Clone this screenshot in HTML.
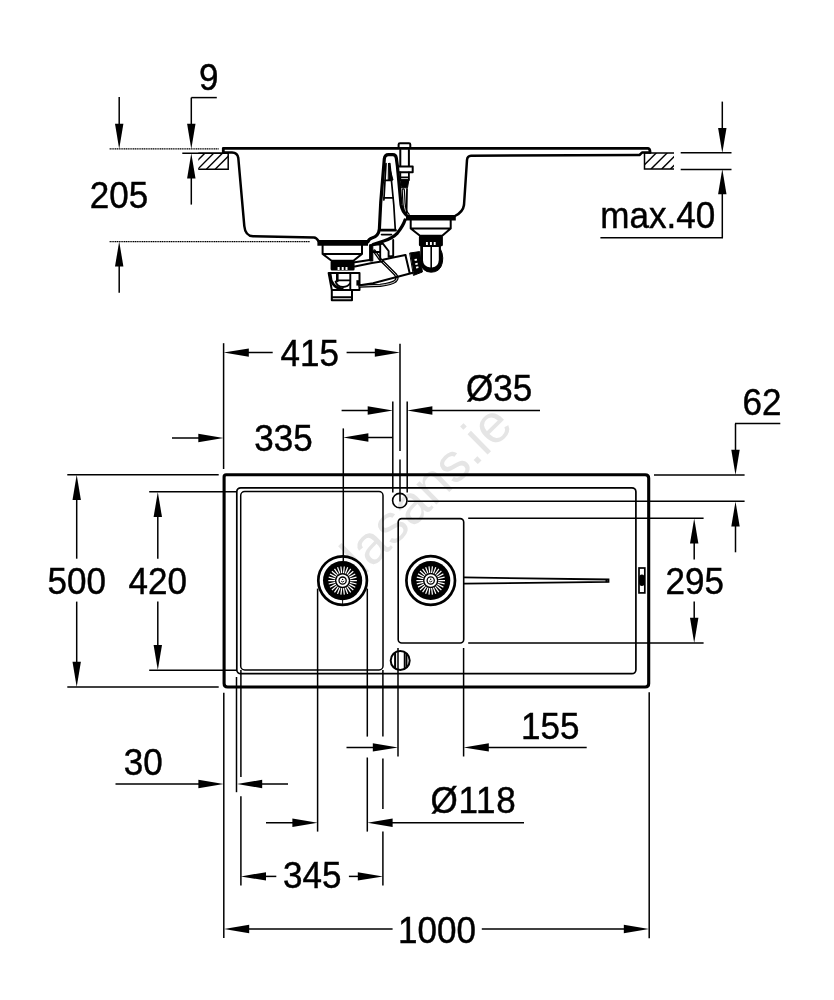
<!DOCTYPE html>
<html lang="en"><head><meta charset="utf-8"><title>Sink dimensions</title>
<style>
html,body{margin:0;padding:0;background:#fff;}
body{width:834px;height:1000px;overflow:hidden;}
svg{display:block;will-change:transform;}
svg text{font-family:"Liberation Sans",sans-serif;fill:#000;}
svg text.d{stroke:#000;stroke-width:0.45px;}
</style></head><body>
<svg width="834" height="1000" viewBox="0 0 834 1000">
<rect width="834" height="1000" fill="#fff"/>

<text font-size="54" style="fill:#e5e5e5" transform="translate(363,576.8) rotate(-44.5)">lasans.ie</text>
<g id="section" fill="none" stroke="#000" stroke-linejoin="round" stroke-linecap="round">
<path d="M223.3,152.6 L223.3,148.3 L648,148.3 Q650.2,148.6 650,152.4" stroke-width="2.8"/>
<path d="M223.3,152.4 L232,152.4 Q237.6,152.6 238.3,158 L244.3,226 Q245.2,235.8 253,236.3 L314,237.4 Q316.5,237.6 318.5,241" stroke-width="2.5"/>
<path d="M317.4,242.9 L368,242.9" stroke-width="5.8" stroke-linecap="butt"/>
<path d="M368,241.8 Q369,238.8 372,238 Q378.6,236.2 379.4,228.8 L380.7,203 L384.3,159 Q384.8,154.7 388.5,154.7 L392.8,154.7 Q395.9,154.7 396.3,158 L397.4,166 L398.8,181 L401,204.5 Q402,211.5 407.5,216" stroke-width="3.2"/>
<path d="M405,220 Q403.2,225.7 397.4,233.1 Q392.5,238.3 383.7,241 L373,244.6" stroke-width="3.2"/>
<path d="M386,163.5 L383.9,200 M389.8,163.5 L393.8,205 L395.3,230" stroke-width="1.7"/>
<path d="M385,180.3 L391.6,180.3 M384,197.9 L393.2,197.9" stroke-width="1.7"/>
<path d="M381,230.2 L395.3,230.2" stroke-width="2.8"/>
<path d="M381.5,234.6 L391.5,234.6" stroke-width="1.6"/>
<path d="M388.6,163.5 L393,180 L388.6,180 Z" fill="#000" stroke-width="1.0"/>
<path d="M406,217.8 L455.8,217.8" stroke-width="5.4" stroke-linecap="butt"/>
<path d="M455,216 Q463,212 464,205 L467,160 Q467.4,155.8 471,155.7 L638.5,155 L639.5,155 L642,152.6 L650,152.6" stroke-width="2.5"/>
<path d="M322.6,245 L322.6,253.9 L331.6,260.8 L353.4,260.8 L362,253.9 L362,245 M322.6,253.9 L362,253.9" stroke-width="2.0"/>
<rect x="330.6" y="260.6" width="24" height="9.9" rx="1.5" fill="#000" stroke="none"/>
<path d="M338.6,266.9 V269.9 M342.7,266.9 V269.9 M346.5,266.9 V269.9" stroke="#fff" stroke-width="2" stroke-linecap="butt"/>
<path d="M328.6,272.9 L359.5,272.9 L359.5,290 L352,290 L352,300.3 L331.8,300.3 L331.8,290 L328.6,272.9 Z M331.8,297.3 L352,297.3 M331.8,290 L352,290" stroke-width="2.0"/>
<path d="M350.3,273 L350.3,290 M337.3,280.4 L350,280.4" stroke-width="1.9"/>
<path d="M337.3,273.5 L337.3,281" stroke-width="2.6"/>
<path d="M335.5,281.5 Q337,286.8 343,287 Q348,286.6 350,283.4" stroke-width="1.8"/>
<path d="M330.2,274.5 Q330.5,287 342.5,289.3" stroke-width="2.8"/>
<rect x="356.4" y="280.2" width="3" height="5.4" fill="#000" stroke="none"/>
<path d="M360,286 L380.2,285.3 Q391.9,283.9 395.2,281.3 Q398.6,278.4 395.3,274.4 L388.6,267.7 L380.2,259.3 L374.3,251" stroke-width="3.3"/>
<path d="M360,286 L380.2,285.3 Q391.9,283.9 395.2,281.3 Q398.6,278.4 395.3,274.4 L388.6,267.7 L380.2,259.3 L374.3,251" stroke="#fff" stroke-width="0.8"/>
<path d="M369.6,245 L369.6,261 L372.8,261 L372.8,245 Z" fill="#000" stroke-width="1.0"/>
<path d="M372.8,245 L380.2,244.2 L380.2,259.3 M380.2,244.4 L382.7,243.4 L388.6,251 L388.6,256.8 L392.5,256 M393.2,240 L393.2,256 M373,252 L380,252" stroke-width="1.9"/>
<path d="M405.4,255.1 L391.9,257.7 L383,259.8 M383,261.3 Q370,263 354.8,266.5 M354.8,262.3 L369.5,260 M412.9,272.8 L373,283.3 L360,285.2" stroke-width="2.0"/>
<path d="M405.4,255.1 L409.6,272.8" stroke-width="2.0"/>
<polygon points="410,253 419.6,251.6 422.4,272 413.8,275.3" fill="#000" stroke="#000" stroke-width="1.0"/>
<path d="M414.6,260 l2.4,-0.4 M415.3,264.1 l2.4,-0.4 M416,267.6 l2.4,-0.4" stroke="#fff" stroke-width="1.8" stroke-linecap="butt"/>
<path d="M410.7,220 L410.7,228.5 L420,235.8 L442.2,235.8 L450.7,228.5 L450.7,220 M410.7,228.5 L450.7,228.5" stroke-width="2.0"/>
<rect x="418.9" y="235.6" width="24" height="10.6" rx="1.5" fill="#000" stroke="none"/>
<path d="M426.9,241.9 V244.9 M430.9,241.9 V244.9 M434.7,241.9 V244.9" stroke="#fff" stroke-width="1.9" stroke-linecap="butt"/>
<path d="M420.8,246 L420.8,261 Q421.2,272.2 431.3,272.2 Q440.3,272.2 442.4,262.5 Q443.3,258 442,253 L440.4,249 L440.4,246 Z" fill="#000" stroke-width="1.0"/>
<path d="M423,247 L423,260.5 Q423.3,267 430.4,267.4 L430.4,247 Z M432,247 L432,267.4 Q438.5,267 438.8,260 L438.8,247 Z" fill="#fff" stroke="none"/>
<path d="M398.6,147 L398.6,144.4 Q398.6,143.3 400,143.3 L409,143.3 Q410.3,143.3 410.3,144.4 L410.3,147" stroke-width="2.0"/>
<path d="M400.3,150 L400.3,166.5 M408.9,150 L408.9,166.5 M397.9,166.6 L412.7,166.6 L412.7,172.3 L397.9,172.3 Z" stroke-width="2.0"/>
<path d="M400.3,172.3 L400.3,180 M408.9,172.3 L408.9,180 M400.3,177.3 L408.9,177.3" stroke-width="1.8"/>
<path d="M400.3,179.6 L408.9,179.6 L407.5,187.8 L401.3,187.8 Z" fill="#000" stroke-width="1.0"/>
<path d="M403.3,190 L404,203 Q404.5,211 408,214.5" stroke-width="3.4"/>
<path d="M403.3,190 L404,203 Q404.5,211 408,214.5" stroke="#fff" stroke-width="0.9"/>
<path d="M407,189 L406.5,214" stroke-width="1.8"/>
</g>
<clipPath id="hc1"><rect x="198.3" y="153.3" width="29.9" height="16"/></clipPath>
<g clip-path="url(#hc1)" stroke="#000" stroke-width="1.4">
<line x1="188.8" y1="169.3" x2="208.8" y2="149.3"/>
<line x1="197.6" y1="169.3" x2="217.6" y2="149.3"/>
<line x1="206.4" y1="169.3" x2="226.4" y2="149.3"/>
<line x1="215.2" y1="169.3" x2="235.2" y2="149.3"/>
</g>
<path d="M198.3,153.3 H228.2 V169.3 H198.3" fill="none" stroke="#000" stroke-width="1.5"/>
<clipPath id="hc2"><rect x="644.5" y="153" width="29.5" height="16.1"/></clipPath>
<g clip-path="url(#hc2)" stroke="#000" stroke-width="1.4">
<line x1="640.1" y1="169.1" x2="660.1" y2="149.1"/>
<line x1="651" y1="169.1" x2="671" y2="149.1"/>
<line x1="661.7" y1="169.1" x2="681.7" y2="149.1"/>
<line x1="670.4" y1="169.1" x2="690.4" y2="149.1"/>
</g>
<path d="M674,153 H644.5 V169.1 H674" fill="none" stroke="#000" stroke-width="1.5"/>
<line x1="109.6" y1="148.8" x2="218.7" y2="148.8" stroke="#000" stroke-width="1.2" stroke-dasharray="1.3 0.5"/>
<line x1="182.3" y1="153.2" x2="223" y2="153.2" stroke="#000" stroke-width="1.4" />
<line x1="109.6" y1="241.6" x2="310" y2="241.6" stroke="#000" stroke-width="1.2" stroke-dasharray="1.3 0.5"/>
<line x1="119.2" y1="97" x2="119.2" y2="140" stroke="#000" stroke-width="1.5" />
<polygon points="119.20,148.90 115.00,123.70 123.40,123.70" fill="#000"/>
<line x1="119.2" y1="250" x2="119.2" y2="292.7" stroke="#000" stroke-width="1.5" />
<polygon points="119.20,241.40 115.00,266.60 123.40,266.60" fill="#000"/>
<text transform="translate(119.05,208.4) scale(0.93,1)" font-size="37.7" text-anchor="middle" class="d" letter-spacing="0">205</text>
<line x1="191.3" y1="97.6" x2="216.8" y2="97.6" stroke="#000" stroke-width="1.5" />
<line x1="191.3" y1="97.6" x2="191.3" y2="140" stroke="#000" stroke-width="1.5" />
<polygon points="191.30,148.90 187.10,123.70 195.50,123.70" fill="#000"/>
<polygon points="191.30,153.20 187.10,178.40 195.50,178.40" fill="#000"/>
<line x1="191.3" y1="170" x2="191.3" y2="204.6" stroke="#000" stroke-width="1.5" />
<text transform="translate(208.80,89.6) scale(0.93,1)" font-size="37.7" text-anchor="middle" class="d" letter-spacing="0">9</text>
<line x1="680.7" y1="152.7" x2="731.5" y2="152.7" stroke="#000" stroke-width="1.5" />
<line x1="680.7" y1="169.4" x2="731.5" y2="169.4" stroke="#000" stroke-width="1.5" />
<line x1="722.3" y1="101.6" x2="722.3" y2="140" stroke="#000" stroke-width="1.5" />
<polygon points="722.30,153.10 718.10,127.90 726.50,127.90" fill="#000"/>
<polygon points="722.30,169.00 718.10,194.20 726.50,194.20" fill="#000"/>
<line x1="722.3" y1="185" x2="722.3" y2="237.8" stroke="#000" stroke-width="1.5" />
<line x1="600.4" y1="237.8" x2="723" y2="237.8" stroke="#000" stroke-width="1.5" />
<text transform="translate(657.75,228.10000000000002) scale(0.93,1)" font-size="37.7" text-anchor="middle" class="d" letter-spacing="0">max.40</text>
<g id="plan" fill="none" stroke="#000">
<path d="M226.1,474.7 H645.2 Q648.7,474.7 648.7,478.2 V683.5 Q648.7,687 645.2,687 H227.6 Q224.1,687 224.1,683.5 V476.7 Q224.1,474.7 226.1,474.7 Z" stroke-width="3.1"/>
<rect x="236.8" y="487.8" width="399.1" height="185.9" rx="4" stroke-width="1.7"/>
<rect x="240.7" y="491.6" width="142.3" height="178.4" rx="4" stroke-width="1.5"/>
<rect x="398.2" y="518.6" width="65.5" height="124.4" rx="3.5" stroke-width="1.6"/>
<circle cx="399.8" cy="500.6" r="7.2" stroke-width="1.6"/>
<circle cx="400.2" cy="660.5" r="9.5" stroke-width="2"/>
<path d="M395.1,652.5 V668.5" stroke-width="2"/><path d="M404.6,652 V669 M406.6,653.5 V667.5" stroke-width="1.7"/>
<path d="M464,577.4 L608.5,579.5 L608.5,581.9 L464,583.6" stroke-width="1.8"/>
<path d="M606.5,579.2 V582.2" stroke-width="2"/>
<rect x="639" y="568" width="5.8" height="24.9" stroke-width="1.7"/>
<rect x="639" y="574.4" width="5.8" height="11.6" rx="2.9" ry="4" fill="#000" stroke="none"/>
</g>
<circle cx="342.6" cy="580.6" r="24.3" fill="#fff" stroke="#000" stroke-width="2.7"/>
<circle cx="342.6" cy="580.6" r="19.6" fill="#000"/>
<path d="M350.20,580.60L356.90,580.60M349.98,582.42L356.48,584.00M349.33,584.13L355.26,587.20M348.29,585.64L353.30,590.02M346.92,586.85L350.72,592.29M345.29,587.71L347.67,593.88M343.52,588.14L344.32,594.70M341.68,588.14L340.88,594.70M339.91,587.71L337.53,593.88M338.28,586.85L334.48,592.29M336.91,585.64L331.90,590.02M335.87,584.13L329.94,587.20M335.22,582.42L328.72,584.00M335.00,580.60L328.30,580.60M335.22,578.78L328.72,577.20M335.87,577.07L329.94,574.00M336.91,575.56L331.90,571.18M338.28,574.35L334.48,568.91M339.91,573.49L337.53,567.32M341.68,573.06L340.88,566.50M343.52,573.06L344.32,566.50M345.29,573.49L347.67,567.32M346.92,574.35L350.72,568.91M348.29,575.56L353.30,571.18M349.33,577.07L355.26,574.00M349.98,578.78L356.48,577.20" stroke="#fff" stroke-width="1.25" fill="none"/>
<circle cx="342.6" cy="580.6" r="6.2" fill="#fff"/>
<circle cx="342.6" cy="580.6" r="3.6" fill="none" stroke="#000" stroke-width="1.3"/>
<path d="M341.0,581.0 Q342.6,583.0 344.20000000000005,581.0" stroke="#000" stroke-width="0.9" fill="none"/>
<circle cx="342.6" cy="579.4" r="0.7" fill="#000"/>
<circle cx="430.7" cy="580.5" r="24.3" fill="#fff" stroke="#000" stroke-width="2.7"/>
<circle cx="430.7" cy="580.5" r="19.6" fill="#000"/>
<path d="M438.30,580.50L445.00,580.50M438.08,582.32L444.58,583.90M437.43,584.03L443.36,587.10M436.39,585.54L441.40,589.92M435.02,586.75L438.82,592.19M433.39,587.61L435.77,593.78M431.62,588.04L432.42,594.60M429.78,588.04L428.98,594.60M428.01,587.61L425.63,593.78M426.38,586.75L422.58,592.19M425.01,585.54L420.00,589.92M423.97,584.03L418.04,587.10M423.32,582.32L416.82,583.90M423.10,580.50L416.40,580.50M423.32,578.68L416.82,577.10M423.97,576.97L418.04,573.90M425.01,575.46L420.00,571.08M426.38,574.25L422.58,568.81M428.01,573.39L425.63,567.22M429.78,572.96L428.98,566.40M431.62,572.96L432.42,566.40M433.39,573.39L435.77,567.22M435.02,574.25L438.82,568.81M436.39,575.46L441.40,571.08M437.43,576.97L443.36,573.90M438.08,578.68L444.58,577.10" stroke="#fff" stroke-width="1.25" fill="none"/>
<circle cx="430.7" cy="580.5" r="6.2" fill="#fff"/>
<circle cx="430.7" cy="580.5" r="3.6" fill="none" stroke="#000" stroke-width="1.3"/>
<path d="M429.09999999999997,580.9 Q430.7,582.9 432.3,580.9" stroke="#000" stroke-width="0.9" fill="none"/>
<circle cx="430.7" cy="579.3" r="0.7" fill="#000"/>
<line x1="67.3" y1="474.8" x2="218.7" y2="474.8" stroke="#000" stroke-width="1.5" />
<line x1="67.3" y1="687" x2="218.7" y2="687" stroke="#000" stroke-width="1.5" />
<line x1="76.7" y1="490" x2="76.7" y2="558.7" stroke="#000" stroke-width="1.5" />
<polygon points="76.70,474.80 72.50,500.00 80.90,500.00" fill="#000"/>
<line x1="76.7" y1="601.6" x2="76.7" y2="670" stroke="#000" stroke-width="1.5" />
<polygon points="76.70,687.00 72.50,661.80 80.90,661.80" fill="#000"/>
<text transform="translate(76.80,594.0999999999999) scale(0.93,1)" font-size="37.7" text-anchor="middle" class="d" letter-spacing="0">500</text>
<line x1="149.2" y1="491.8" x2="237" y2="491.8" stroke="#000" stroke-width="1.5" />
<line x1="149.2" y1="670.2" x2="237" y2="670.2" stroke="#000" stroke-width="1.5" />
<line x1="157.8" y1="505" x2="157.8" y2="558.7" stroke="#000" stroke-width="1.5" />
<polygon points="157.80,491.90 153.60,517.10 162.00,517.10" fill="#000"/>
<line x1="157.8" y1="601.6" x2="157.8" y2="655" stroke="#000" stroke-width="1.5" />
<polygon points="157.80,670.10 153.60,644.90 162.00,644.90" fill="#000"/>
<text transform="translate(157.80,594.0999999999999) scale(0.93,1)" font-size="37.7" text-anchor="middle" class="d" letter-spacing="0">420</text>
<line x1="223.6" y1="343.2" x2="223.6" y2="469" stroke="#000" stroke-width="1.5" />
<line x1="235" y1="352.6" x2="272.7" y2="352.6" stroke="#000" stroke-width="1.5" />
<polygon points="223.60,352.60 248.80,348.40 248.80,356.80" fill="#000"/>
<line x1="346.6" y1="352.6" x2="385" y2="352.6" stroke="#000" stroke-width="1.5" />
<polygon points="400.00,352.60 374.80,348.40 374.80,356.80" fill="#000"/>
<text transform="translate(309.85,365.6) scale(0.93,1)" font-size="37.7" text-anchor="middle" class="d" letter-spacing="0">415</text>
<line x1="400" y1="343.8" x2="400" y2="450.9" stroke="#000" stroke-width="1.5" />
<line x1="400" y1="459.5" x2="400" y2="501.5" stroke="#000" stroke-width="1.5" />
<line x1="392.8" y1="401.4" x2="392.8" y2="492.6" stroke="#000" stroke-width="1.5" />
<line x1="407.2" y1="401.4" x2="407.2" y2="492.6" stroke="#000" stroke-width="1.5" />
<line x1="341.6" y1="410.5" x2="380" y2="410.5" stroke="#000" stroke-width="1.5" />
<polygon points="392.90,410.50 367.70,406.30 367.70,414.70" fill="#000"/>
<polygon points="407.20,410.50 432.40,406.30 432.40,414.70" fill="#000"/>
<line x1="420" y1="410.5" x2="540" y2="410.5" stroke="#000" stroke-width="1.5" />
<text transform="translate(499.15,400.8) scale(0.93,1)" font-size="37.7" text-anchor="middle" class="d" letter-spacing="0">Ø35</text>
<line x1="343.3" y1="428.4" x2="343.3" y2="561.5" stroke="#000" stroke-width="1.5" />
<polygon points="343.20,437.50 368.40,433.30 368.40,441.70" fill="#000"/>
<line x1="355" y1="437.5" x2="392.8" y2="437.5" stroke="#000" stroke-width="1.5" />
<line x1="172" y1="438" x2="210" y2="438" stroke="#000" stroke-width="1.5" />
<polygon points="223.50,438.00 198.30,433.80 198.30,442.20" fill="#000"/>
<text transform="translate(283.50,450.8) scale(0.93,1)" font-size="37.7" text-anchor="middle" class="d" letter-spacing="0">335</text>
<line x1="654" y1="475" x2="744.6" y2="475" stroke="#000" stroke-width="1.5" />
<line x1="407.5" y1="501.3" x2="744.6" y2="501.3" stroke="#000" stroke-width="1.5" />
<line x1="735" y1="423.6" x2="780.3" y2="423.6" stroke="#000" stroke-width="1.5" />
<line x1="735.5" y1="423.6" x2="735.5" y2="460" stroke="#000" stroke-width="1.5" />
<polygon points="735.50,475.00 731.30,449.80 739.70,449.80" fill="#000"/>
<polygon points="735.50,501.40 731.30,526.60 739.70,526.60" fill="#000"/>
<line x1="735.5" y1="515" x2="735.5" y2="552.3" stroke="#000" stroke-width="1.5" />
<text transform="translate(762.10,415.1) scale(0.93,1)" font-size="37.7" text-anchor="middle" class="d" letter-spacing="0">62</text>
<line x1="468.2" y1="518.3" x2="703.6" y2="518.3" stroke="#000" stroke-width="1.5" />
<line x1="468.2" y1="643" x2="703.6" y2="643" stroke="#000" stroke-width="1.5" />
<polygon points="694.20,518.40 690.00,543.60 698.40,543.60" fill="#000"/>
<line x1="694.2" y1="535" x2="694.2" y2="559.5" stroke="#000" stroke-width="1.5" />
<line x1="694.2" y1="601.5" x2="694.2" y2="625" stroke="#000" stroke-width="1.5" />
<polygon points="694.20,642.90 690.00,617.70 698.40,617.70" fill="#000"/>
<text transform="translate(694.75,593.5) scale(0.93,1)" font-size="37.7" text-anchor="middle" class="d" letter-spacing="0">295</text>
<line x1="223.8" y1="692.8" x2="223.8" y2="938" stroke="#000" stroke-width="1.5" />
<line x1="236.5" y1="677" x2="236.5" y2="792.2" stroke="#000" stroke-width="1.5" />
<line x1="240.9" y1="670" x2="240.9" y2="777" stroke="#000" stroke-width="1.5" />
<line x1="240.9" y1="796.3" x2="240.9" y2="885.4" stroke="#000" stroke-width="1.5" />
<line x1="317.6" y1="588.6" x2="317.6" y2="831.6" stroke="#000" stroke-width="1.5" />
<line x1="367.3" y1="588.6" x2="367.3" y2="736.6" stroke="#000" stroke-width="1.5" />
<line x1="367.3" y1="757.5" x2="367.3" y2="831.6" stroke="#000" stroke-width="1.5" />
<line x1="382.9" y1="670" x2="382.9" y2="736.6" stroke="#000" stroke-width="1.5" />
<line x1="382.9" y1="758.5" x2="382.9" y2="809" stroke="#000" stroke-width="1.5" />
<line x1="382.9" y1="831.6" x2="382.9" y2="885.4" stroke="#000" stroke-width="1.5" />
<line x1="398" y1="648" x2="398" y2="756.5" stroke="#000" stroke-width="1.5" />
<line x1="463.6" y1="648" x2="463.6" y2="756.5" stroke="#000" stroke-width="1.5" />
<line x1="649.2" y1="692.2" x2="649.2" y2="938.3" stroke="#000" stroke-width="1.5" />
<line x1="342.6" y1="594" x2="342.6" y2="606" stroke="#000" stroke-width="0.9" />
<line x1="346.5" y1="747.4" x2="380" y2="747.4" stroke="#000" stroke-width="1.5" />
<polygon points="398.00,747.40 372.80,743.20 372.80,751.60" fill="#000"/>
<polygon points="463.60,747.40 488.80,743.20 488.80,751.60" fill="#000"/>
<line x1="480" y1="747.4" x2="586.7" y2="747.4" stroke="#000" stroke-width="1.5" />
<text transform="translate(550.35,738.5) scale(0.93,1)" font-size="37.7" text-anchor="middle" class="d" letter-spacing="0">155</text>
<line x1="115.5" y1="784" x2="205" y2="784" stroke="#000" stroke-width="1.5" />
<polygon points="223.60,784.00 198.40,779.80 198.40,788.20" fill="#000"/>
<polygon points="237.00,784.00 262.20,779.80 262.20,788.20" fill="#000"/>
<line x1="255" y1="784" x2="288" y2="784" stroke="#000" stroke-width="1.5" />
<text transform="translate(143.20,774.6999999999999) scale(0.93,1)" font-size="37.7" text-anchor="middle" class="d" letter-spacing="0">30</text>
<line x1="266" y1="822.8" x2="300" y2="822.8" stroke="#000" stroke-width="1.5" />
<polygon points="317.60,822.80 292.40,818.60 292.40,827.00" fill="#000"/>
<polygon points="367.40,822.80 392.60,818.60 392.60,827.00" fill="#000"/>
<line x1="385" y1="822.8" x2="524" y2="822.8" stroke="#000" stroke-width="1.5" />
<text transform="translate(473.50,812.8) scale(0.93,1)" font-size="37.7" text-anchor="middle" class="d" letter-spacing="0.8">Ø118</text>
<polygon points="240.80,876.40 266.00,872.20 266.00,880.60" fill="#000"/>
<line x1="260" y1="876.4" x2="276.3" y2="876.4" stroke="#000" stroke-width="1.5" />
<line x1="348.9" y1="876.4" x2="365" y2="876.4" stroke="#000" stroke-width="1.5" />
<polygon points="383.00,876.40 357.80,872.20 357.80,880.60" fill="#000"/>
<text transform="translate(312.25,888.0) scale(0.93,1)" font-size="37.7" text-anchor="middle" class="d" letter-spacing="0">345</text>
<polygon points="224.00,929.00 249.20,924.80 249.20,933.20" fill="#000"/>
<line x1="240" y1="929" x2="392.6" y2="929" stroke="#000" stroke-width="1.5" />
<line x1="481.8" y1="929" x2="630" y2="929" stroke="#000" stroke-width="1.5" />
<polygon points="649.00,929.00 623.80,924.80 623.80,933.20" fill="#000"/>
<text transform="translate(437.00,942.8) scale(0.93,1)" font-size="37.7" text-anchor="middle" class="d" letter-spacing="0">1000</text>
</svg></body></html>
